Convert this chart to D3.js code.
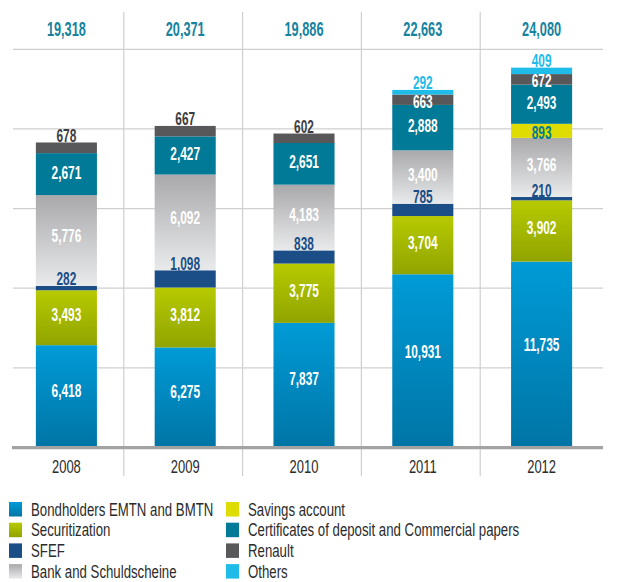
<!DOCTYPE html>
<html>
<head>
<meta charset="utf-8">
<script src="https://cdn.jsdelivr.net/npm/d3@7"></script>
<style>
  body { margin: 0; background: #fff; }
  text { font-family: "Liberation Sans", Arial, sans-serif; }
</style>
</head>
<body>
<div id="chart"></div>
<script>
// values (EUR million)
const years = ['2008', '2009', '2010', '2011', '2012']
const totals = [19318, 20371, 19886, 22663, 24080]
const bondholders = [6418, 6275, 7837, 10931, 11735]
const securitization = [3493, 3812, 3775, 3704, 3902]
const sfef = [282, 1098, 838, 785, 210]
const bank = [5776, 6092, 4183, 3400, 3766]
const savings = [0, 0, 0, 0, 893]
const certificates = [2671, 2427, 2651, 2888, 2493]
const renault = [678, 667, 602, 663, 672]
const others = [0, 0, 0, 292, 409]

const seriesNames = ['Bondholders EMTN and BMTN', 'Securitization', 'SFEF', 'Bank and Schuldscheine',
  'Savings account', 'Certificates of deposit and Commercial papers', 'Renault', 'Others']
const seriesValues = [bondholders, securitization, sfef, bank, savings, certificates, renault, others]

const width = 632
const height = 582

const fills = ['url(#g_bond)', 'url(#g_secu)', '#1b4e86', 'url(#g_bank)', '#dedc00', '#007a96', '#58585a', '#1fbbe9']
const labelColors = ['#fff', '#fff', '#1b4e86', '#fff', '#007a96', '#fff', '#fff', '#1fbbe9']

const svg = d3.select('#chart').append('svg')
  .attr('width', width)
  .attr('height', height)

const defs = svg.append('defs')
function grad(id, top, bottom) {
  const g = defs.append('linearGradient').attr('id', id)
    .attr('x1', 0).attr('y1', 0).attr('x2', 0).attr('y2', 1)
  g.append('stop').attr('offset', '0%').attr('stop-color', top)
  g.append('stop').attr('offset', '100%').attr('stop-color', bottom)
}
grad('g_bond', '#009bd7', '#0075a6')
grad('g_secu', '#b7ca00', '#90a400')
grad('g_bank', '#a9a9ab', '#e9eaec')

// no condensed font installed, so squeeze the text horizontally
function narrow(px, py, sx) {
  return 'translate(' + px + ',' + py + ') scale(' + sx + ',1)'
}

// scales
const x = d3.scaleBand().domain(years).range([7, 601]).paddingInner(0.486).paddingOuter(0.243)
const y = d3.scaleLinear().domain([0, 25000]).range([446, 53.2])
const grid = d3.scaleLinear().domain([0, 5]).range([447.5, 49.3])

// grid lines
svg.append('g').selectAll('line')
  .data(d3.range(1, 6))
  .join('line')
  .attr('x1', 13).attr('x2', 603)
  .attr('y1', d => grid(d)).attr('y2', d => grid(d))
  .attr('stroke', '#cfcfcf').attr('stroke-width', 1.2)

svg.append('g').selectAll('line')
  .data(years.slice(1))
  .join('line')
  .attr('x1', d => x(d) - x.step() * x.paddingInner() / 2 - 2)
  .attr('x2', d => x(d) - x.step() * x.paddingInner() / 2 - 2)
  .attr('y1', 12).attr('y2', 476)
  .attr('stroke', '#cfcfcf').attr('stroke-width', 1.2)

// stacked bars
const table = years.map((yr, i) => {
  const row = { year: yr }
  seriesNames.forEach((s, k) => { row[s] = seriesValues[k][i] })
  return row
})
const stacked = d3.stack().keys(seriesNames)(table)

stacked.forEach((layer, k) => {
  const g = svg.append('g')
  g.selectAll('rect')
    .data(layer.filter(d => d[1] - d[0] > 0))
    .join('rect')
    .attr('x', d => x(d.data.year))
    .attr('width', x.bandwidth())
    .attr('y', d => y(d[1]))
    .attr('height', d => y(d[0]) - y(d[1]))
    .attr('fill', fills[k])
})

// segment labels
stacked.forEach((layer, k) => {
  const name = seriesNames[k]
  layer.forEach((d, i) => {
    const v = d[1] - d[0]
    if (v <= 0) return
    const isTop = stacked.slice(k + 1).every(l => l[i][1] - l[i][0] <= 0)
    let yy, color = labelColors[k]
    if (name === 'SFEF' || (isTop && v < 1000)) {
      // small segment: label just above it
      yy = y(d[1]) - 0.5
      if (name === 'Renault') color = '#3d3d3f'
    } else {
      const top = y(d[1]), h = y(d[0]) - y(d[1])
      yy = h < 25 ? top + h / 2 + 8 : top + h * 0.45 + 6.5
    }
    svg.append('text')
      .attr('transform', narrow(x(d.data.year) + x.bandwidth() / 2, yy, 0.66))
      .attr('text-anchor', 'middle')
      .attr('font-size', 18)
      .attr('font-weight', 'bold')
      .attr('fill', color)
      .text(d3.format(',')(v))
  })
})

// totals
svg.append('g').selectAll('text')
  .data(years)
  .join('text')
  .attr('transform', d => narrow(x(d) + x.bandwidth() / 2, 36, 0.655))
  .attr('text-anchor', 'middle')
  .attr('font-size', 19.5)
  .attr('font-weight', 'bold')
  .attr('fill', '#17839f')
  .text((d, i) => d3.format(',')(totals[i]))

// baseline
svg.append('line')
  .attr('x1', 12).attr('x2', 603)
  .attr('y1', 447.6).attr('y2', 447.6)
  .attr('stroke', '#a3a3a3').attr('stroke-width', 3.4)

// year labels
svg.append('g').selectAll('text')
  .data(years)
  .join('text')
  .attr('transform', d => narrow(x(d) + x.bandwidth() / 2, 473, 0.72))
  .attr('text-anchor', 'middle')
  .attr('font-size', 18)
  .attr('fill', '#2b2b2b')
  .text(d => d)

// legend
const legend = svg.append('g')
seriesNames.forEach((name, k) => {
  const col = Math.floor(k / 4), row = k % 4
  const lx = col === 0 ? 9 : 226
  const ly = 502 + row * 20.7
  legend.append('rect')
    .attr('x', lx).attr('y', ly)
    .attr('width', 13).attr('height', 14.5)
    .attr('fill', fills[k])
  legend.append('text')
    .attr('transform', narrow(lx + 22, ly + 13.5, 0.715))
    .attr('font-size', 18.5)
    .attr('fill', '#2b2b2b')
    .text(name)
})
</script>
</body>
</html>
